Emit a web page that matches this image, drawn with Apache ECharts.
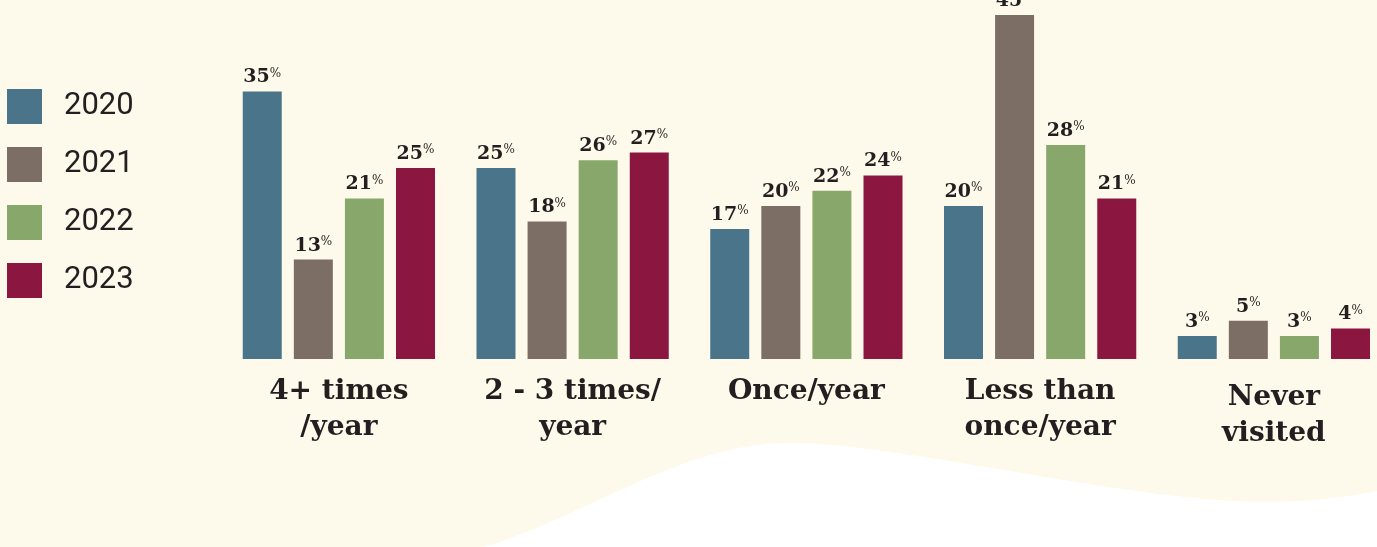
<!DOCTYPE html>
<html><head><meta charset="utf-8">
<script src="https://cdn.jsdelivr.net/npm/echarts@6/dist/echarts.min.js"></script>
<style>html,body{margin:0;padding:0;background:#fefaeb;overflow:hidden}#c{width:1391px;height:547px}</style>
</head><body><div id="c"></div>
<script>
const categories = ['4+ times\n/year', '2 - 3 times/\nyear', 'Once/year', 'Less than\nonce/year', 'Never\nvisited'];
const years = ['2020', '2021', '2022', '2023'];
const v2020 = [35, 25, 17, 20, 3];
const v2021 = [13, 18, 20, 45, 5];
const v2022 = [21, 26, 22, 28, 3];
const v2023 = [25, 27, 24, 21, 4];
const colors = ['#4a748a', '#7d6e65', '#88a86b', '#8b1640'];
const seriesValues = [v2020, v2021, v2022, v2023];

// decorative wave background (white area)
function bez(p0, p1, p2, p3, n) {
  const out = [];
  for (let k = 0; k <= n; k++) {
    const t = k / n, u = 1 - t;
    out.push([
      u*u*u*p0[0] + 3*u*u*t*p1[0] + 3*u*t*t*p2[0] + t*t*t*p3[0],
      u*u*u*p0[1] + 3*u*u*t*p1[1] + 3*u*t*t*p2[1] + t*t*t*p3[1]
    ]);
  }
  return out;
}
const wave = [].concat(
  bez([483,547],[580,520],[680,443],[790,443], 30),
  bez([790,443],[900,443],[1130,502],[1264,502], 40),
  bez([1264,502],[1320,502],[1350,496],[1395,488], 10),
  [[1395,550],[483,550]]
);

const chart = echarts.init(document.getElementById('c'), null, {renderer: 'canvas'});
const serif = '"DejaVu Serif", serif';
chart.setOption({
  backgroundColor: '#fefaeb',
  animation: false,
  graphic: [{
    type: 'polygon', z: -10, silent: true,
    shape: { points: wave },
    style: { fill: '#ffffff' }
  }],
  legend: {
    orient: 'vertical', left: 2, top: 84,
    itemWidth: 35, itemHeight: 35, itemGap: 23,
    icon: 'rect',
    data: years,
    textStyle: { fontFamily: 'Roboto, sans-serif', fontSize: 31, color: '#231f20', padding: [0, 0, 0, 17] }
  },
  grid: { left: 222, width: 1168.75, top: 15, bottom: 188 },
  xAxis: {
    type: 'category',
    data: categories.map((c, i) => i === 4 ? { value: c, textStyle: { padding: [6, 0, 0, 0] } } : c),
    axisLine: { show: false }, axisTick: { show: false },
    axisLabel: { margin: 15, fontFamily: serif, fontWeight: 'bold', fontSize: 28, lineHeight: 36, color: '#231f20', interval: 0 }
  },
  yAxis: { type: 'value', min: 0, max: 45, show: false, splitLine: { show: false } },
  series: years.map((y, i) => ({
    name: y, type: 'bar', barWidth: 39, barGap: '31%',
    itemStyle: { color: colors[i] },
    data: seriesValues[i],
    label: {
      show: true, position: 'top', distance: 4,
      formatter: p => '{v|' + p.value + '}{p|%}',
      rich: {
        v: { fontFamily: serif, fontWeight: 'bold', fontSize: 19, color: '#231f20', lineHeight: 20 },
        p: { fontFamily: serif, fontSize: 12, color: '#231f20', verticalAlign: 'top', lineHeight: 20, padding: [0, 0, 7, 0] }
      }
    }
  }))
});
</script></body></html>
